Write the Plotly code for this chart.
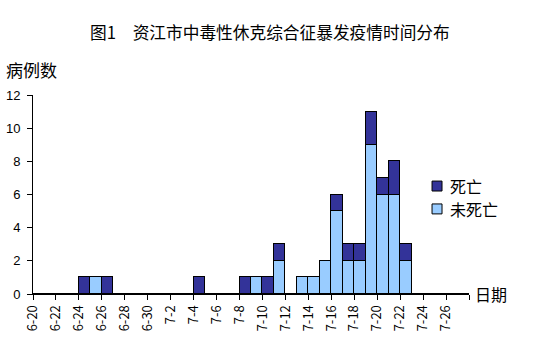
import plotly.graph_objects as go

# categories: daily from 6-20 to 7-27
dates = ["6-20", "6-21", "6-22", "6-23", "6-24", "6-25", "6-26", "6-27", "6-28", "6-29", "6-30",
         "7-1", "7-2", "7-3", "7-4", "7-5", "7-6", "7-7", "7-8", "7-9", "7-10", "7-11", "7-12",
         "7-13", "7-14", "7-15", "7-16", "7-17", "7-18", "7-19", "7-20", "7-21", "7-22",
         "7-23", "7-24", "7-25", "7-26", "7-27"]
survived = [0, 0, 0, 0, 0, 1, 0, 0, 0, 0, 0,
            0, 0, 0, 0, 0, 0, 0, 0, 1, 0, 2, 0,
            1, 1, 2, 5, 2, 2, 9, 6, 6, 2,
            0, 0, 0, 0, 0]
deaths = [0, 0, 0, 0, 1, 0, 1, 0, 0, 0, 0,
          0, 0, 0, 1, 0, 0, 0, 1, 0, 1, 1, 0,
          0, 0, 0, 1, 1, 1, 2, 1, 2, 1,
          0, 0, 0, 0, 0]
tick_labels = ["6-20", "6-22", "6-24", "6-26", "6-28", "6-30", "7-2", "7-4", "7-6", "7-8",
               "7-10", "7-12", "7-14", "7-16", "7-18", "7-20", "7-22", "7-24", "7-26", ""]
legend_names = ["死亡", "未死亡"]

title = "图1　资江市中毒性休克综合征暴发疫情时间分布"
FONT = "Noto Sans CJK SC"
C_DEATH = "#333399"
C_SURV = "#99CCFF"

W, H = 539, 361
PL, PR, PT, PB = 33, 469.5, 94.5, 294.5   # plot area in page pixels
pw = PR - PL
ph = PB - PT
ML, MT = PL, PT
MR = W - ML - pw
MB = H - MT - ph


def px_x(x):
    return (x - PL) / pw


def px_y(y):
    return (PB - y) / ph


xpos = [i + 0.5 for i in range(len(dates))]

fig = go.Figure()
fig.add_trace(go.Bar(x=xpos, y=survived, width=1, name=legend_names[1],
                     marker=dict(color=C_SURV, line=dict(color="black", width=1)),
                     text=dates, hoverinfo="text+y", textposition="none"))
fig.add_trace(go.Bar(x=xpos, y=deaths, width=1, name=legend_names[0],
                     marker=dict(color=C_DEATH, line=dict(color="black", width=1)),
                     text=dates, hoverinfo="text+y", textposition="none"))

# hand-placed legend (square + text) to match the reference spacing
shapes = []
legend_ann = []
for name, col, cy in [(legend_names[0], C_DEATH, 186), (legend_names[1], C_SURV, 209)]:
    shapes.append(dict(type="rect", xref="paper", yref="paper",
                       x0=px_x(432.5), x1=px_x(442.5), y0=px_y(cy - 5), y1=px_y(cy + 5),
                       fillcolor=col, line=dict(color="black", width=1)))
    legend_ann.append(dict(text=name, x=px_x(448), y=px_y(cy), xref="paper", yref="paper",
                           showarrow=False, xanchor="left", yanchor="middle",
                           font=dict(size=16, family=FONT)))

fig.update_layout(
    width=W, height=H,
    barmode="stack", bargap=0,
    paper_bgcolor="white", plot_bgcolor="white",
    margin=dict(l=ML, r=MR, t=MT, b=MB, autoexpand=False),
    font=dict(family=FONT, size=12, color="black"),
    showlegend=False,
    xaxis=dict(range=[0, 38], tickmode="array",
               tickvals=list(range(0, 39, 2)), ticktext=tick_labels,
               tickangle=-90, ticks="outside", ticklen=5, tickcolor="black",
               showline=True, linecolor="black", linewidth=1,
               showgrid=False, zeroline=False, automargin=False,
               tickfont=dict(size=13, family=FONT)),
    yaxis=dict(range=[0, 12], dtick=2, ticks="outside", ticklen=5, tickcolor="black",
               showline=True, linecolor="black", linewidth=1,
               showgrid=False, zeroline=False, automargin=False,
               ticklabelstandoff=4,
               tickfont=dict(size=13, family="Liberation Sans")),
    shapes=shapes,
    annotations=[
        dict(text=title, x=px_x(270), y=px_y(31), xref="paper", yref="paper", showarrow=False,
             xanchor="center", yanchor="middle", font=dict(size=16.7, family=FONT)),
        dict(text="病例数", x=px_x(4), y=px_y(69), xref="paper", yref="paper", showarrow=False,
             xanchor="left", yanchor="middle", font=dict(size=17, family=FONT)),
        dict(text="日期", x=px_x(474), y=px_y(295), xref="paper", yref="paper", showarrow=False,
             xanchor="left", yanchor="middle", font=dict(size=16, family=FONT)),
    ] + legend_ann,
)

fig.write_html("out.html",
               config={"displayModeBar": False},
               post_script="document.body.style.margin='0';document.body.style.padding='0';")
